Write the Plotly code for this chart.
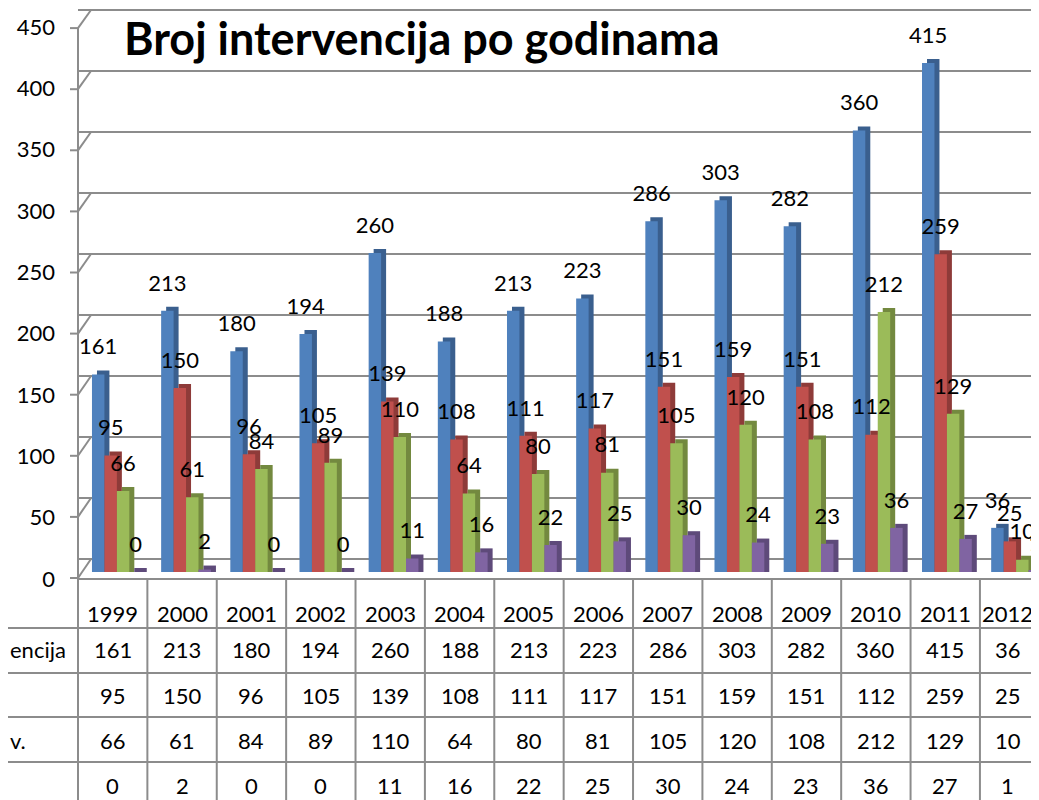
import plotly.graph_objects as go

# ---- data ----
years = ["1999", "2000", "2001", "2002", "2003", "2004", "2005",
         "2006", "2007", "2008", "2009", "2010", "2011", "2012"]
serija1 = [161, 213, 180, 194, 260, 188, 213, 223, 286, 303, 282, 360, 415, 36]
serija2 = [95, 150, 96, 105, 139, 108, 111, 117, 151, 159, 151, 112, 259, 25]
serija3 = [66, 61, 84, 89, 110, 64, 80, 81, 105, 120, 108, 212, 129, 10]
serija4 = [0, 2, 0, 0, 11, 16, 22, 25, 30, 24, 23, 36, 27, 1]
row_labels = ["encija", "", "v.", ""]
y_ticks = [0, 50, 100, 150, 200, 250, 300, 350, 400, 450]
title_text = "Broj intervencija po godinama"

series = [serija1, serija2, serija3, serija4]
front_colors = ["#4F81BD", "#C0504D", "#9BBB59", "#8064A2"]
dark_colors = ["#3A5F8E", "#8E3B39", "#73893F", "#5E4A7A"]

# ---- geometry (layout only; "visible" px = figure px + 8 page offset) ----
W, H = 1039, 800
OFF = 8
L_VIS = 78
L = L_VIS - OFF
plot_w = W - L
COL_BARS = 69.17     # bar spacing (slight 3D perspective)
COL_TABLE = 69.38    # data-table column width
RIGHT_EDGE = 1036    # visible right edge of the chart area
x_range = [-0.5, -0.5 + plot_w / COL_BARS]

FLOOR = 578
BAR_ZERO = 572
BAR_SCALE = 1.2265
GRID_ZERO = 559
GRID_SCALE = 1.22
LAB_ZERO = 578
LAB_SCALE = 1.222
TOP = 8

def py(vis):
    return (H + OFF - vis) / H

def px(vis):
    return (vis - L_VIS) / plot_w

y_lo = -(FLOOR - BAR_ZERO) / BAR_SCALE
y_hi = y_lo + (FLOOR - TOP) / BAR_SCALE
g_lo = -(FLOOR - GRID_ZERO) / GRID_SCALE
g_hi = g_lo + (FLOOR - TOP) / GRID_SCALE

bar_w = 0.18
offsets = [-0.298, -0.118, 0.062, 0.242]
dx = 5 / COL_BARS
dy = 4 / BAR_SCALE

FONT = "Lato"
GRAY = "#8C8C8C"
FS = 22

x = list(range(len(years)))

fig = go.Figure()
# back-wall grid axis holder
fig.add_trace(go.Scatter(x=[None], y=[None], yaxis="y2", showlegend=False, hoverinfo="skip"))

for i, vals in enumerate(series):
    # depth faces (side + top)
    fig.add_trace(go.Bar(
        x=x, y=[v + dy for v in vals], width=bar_w, offset=offsets[i] + dx,
        marker=dict(color=dark_colors[i], line=dict(width=0)),
        hoverinfo="skip", showlegend=False))
    # front faces
    fig.add_trace(go.Bar(
        x=x, y=vals, width=bar_w, offset=offsets[i],
        marker=dict(color=front_colors[i], line=dict(width=0)),
        name=row_labels[i] or f"Serija {i+1}", showlegend=False))

for i, vals in enumerate(series):
    fig.add_trace(go.Scatter(
        x=[k + offsets[i] + bar_w / 2 for k in x], y=vals,
        mode="markers+text", text=[str(v) for v in vals], textposition="top center",
        marker=dict(size=22, opacity=0), cliponaxis=False,
        textfont=dict(family=FONT, size=FS, color="black"),
        hoverinfo="skip", showlegend=False))

annotations = []
annotations.append(dict(
    text="<b>" + title_text + "</b>", xref="paper", yref="paper",
    x=px(122), y=py(38), xanchor="left", yanchor="middle",
    showarrow=False, font=dict(family=FONT, size=45, color="black")))

# data table
col_left = [L_VIS + k * COL_TABLE for k in range(len(years) + 1)]
col_center = [(col_left[k] + min(col_left[k + 1], RIGHT_EDGE)) / 2 for k in range(len(years))]
row_y = [py(613), py(649), py(695), py(740), py(785)]
for k, yr in enumerate(years):
    annotations.append(dict(text=yr, x=px(col_center[k]), xref="paper", y=row_y[0], yref="paper",
                            xanchor="center", yanchor="middle",
                            showarrow=False, font=dict(family=FONT, size=FS, color="black")))
    for r, vals in enumerate(series):
        annotations.append(dict(text=str(vals[k]), x=px(col_center[k]), xref="paper",
                                y=row_y[r + 1], yref="paper",
                                xanchor="center", yanchor="middle",
                                showarrow=False, font=dict(family=FONT, size=FS, color="black")))
for r, lab in enumerate(row_labels):
    if lab:
        annotations.append(dict(text=lab, xref="paper", x=px(8),
                                xanchor="left", yanchor="middle", y=row_y[r + 1], yref="paper",
                                showarrow=False, font=dict(family=FONT, size=FS, color="black")))

shapes = []
shapes.append(dict(type="rect", xref="paper", yref="paper", x0=px(79), x1=px(91),
                   y0=py(FLOOR - 1), y1=py(0), fillcolor="white", line=dict(width=0),
                   layer="between"))
shapes.append(dict(type="line", xref="paper", yref="paper", x0=px(78), x1=px(78),
                   y0=py(LAB_ZERO), y1=py(LAB_ZERO - LAB_SCALE * y_ticks[-1]),
                   line=dict(color=GRAY, width=2)))
for v in y_ticks:
    ly = LAB_ZERO - LAB_SCALE * v
    gy = GRID_ZERO - GRID_SCALE * v
    shapes.append(dict(type="line", xref="paper", yref="paper", x0=px(70), x1=px(78),
                       y0=py(ly), y1=py(ly), line=dict(color=GRAY, width=2)))
    shapes.append(dict(type="line", xref="paper", yref="paper", x0=px(78), x1=px(91),
                       y0=py(ly), y1=py(gy), line=dict(color=GRAY, width=2)))
for xl in col_left:
    shapes.append(dict(type="line", xref="paper", yref="paper", x0=px(xl), x1=px(xl),
                       y0=0, y1=py(FLOOR), line=dict(color=GRAY, width=2)))
for ypx in [628, 673, 717, 762]:
    shapes.append(dict(type="line", xref="paper", yref="paper", x0=px(8), x1=1,
                       y0=py(ypx), y1=py(ypx), line=dict(color=GRAY, width=2)))

fig.update_layout(
    width=W, height=H,
    margin=dict(l=L, r=0, t=0, b=0, autoexpand=False),
    paper_bgcolor="white", plot_bgcolor="rgba(0,0,0,0)",
    barmode="overlay",
    showlegend=False,
    font=dict(family=FONT, size=FS, color="black"),
    xaxis=dict(range=x_range, showticklabels=False, showgrid=False, zeroline=False,
               showline=True, linecolor=GRAY, linewidth=2, ticks="", automargin=False,
               fixedrange=True),
    yaxis=dict(range=[y_lo, y_hi], tickvals=y_ticks, domain=[py(FLOOR), py(TOP)],
               showgrid=False, zeroline=False, showline=False, ticks="",
               ticklabelshift=7, ticklabelstandoff=22, automargin=False,
               tickfont=dict(family=FONT, size=FS, color="black")),
    yaxis2=dict(range=[g_lo, g_hi], tickvals=y_ticks, overlaying="y", side="left",
                showgrid=True, gridcolor=GRAY, gridwidth=2, zeroline=False,
                showline=False, ticks="", showticklabels=False, automargin=False),
    annotations=annotations,
    shapes=shapes,
)

fig.write_html("out.html")
